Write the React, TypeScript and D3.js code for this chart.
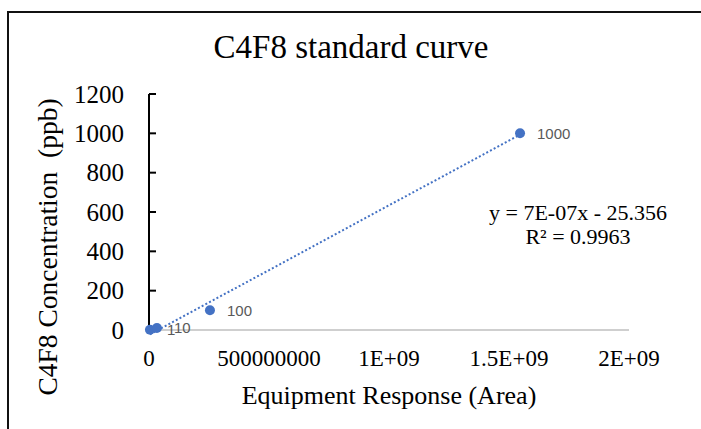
import React from "react";
import * as d3 from "d3";

const responses = [4e6, 3.3e7, 2.54e8, 1.546e9];
const concentrations = [1, 10, 100, 1000];
const pointLabels = ["1", "10", "100", "1000"];
const xTicks = [0, 5e8, 1e9, 1.5e9, 2e9];
const xTickLabels = ["0", "500000000", "1E+09", "1.5E+09", "2E+09"];
const yTicks = [0, 200, 400, 600, 800, 1000, 1200];
const equationText = "y = 7E-07x - 25.356";
const r2Text = "R² = 0.9963";

const W = 701;
const H = 429;
const serif = "Liberation Serif, Tinos, Times New Roman, DejaVu Serif, serif";
const sans = "Liberation Sans, Arial, sans-serif";
const blue = "#4472C4";

export default function App() {
  const x = d3.scaleLinear().domain([0, 2e9]).range([149, 629]);
  const y = d3.scaleLinear().domain([0, 1200]).range([330, 94]);

  const mx = d3.mean(responses) as number;
  const my = d3.mean(concentrations) as number;
  let sxy = 0, sxx = 0;
  responses.forEach((v, i) => {
    sxy += (v - mx) * (concentrations[i] - my);
    sxx += (v - mx) * (v - mx);
  });
  const slope = sxy / sxx;
  const intercept = my - slope * mx;
  const x0 = d3.min(responses) as number;
  const x1 = d3.max(responses) as number;
  const line = d3
    .line<number>()
    .x((d) => x(d))
    .y((d) => y(slope * d + intercept));

  const serifStyle = { fontFamily: serif, whiteSpace: "pre" as const };

  return (
    <svg width={W} height={H} style={{ display: "block", position: "absolute", left: 0, top: 0 }}>
      <rect x={0} y={0} width={W} height={H} fill="#fff" />
      <rect x={8} y={12} width={W + 20} height={H + 20} fill="none" stroke="#111" strokeWidth={2} />
      <text x={351} y={58} textAnchor="middle" style={serifStyle} fontSize={33} fill="#000">
        C4F8 standard curve
      </text>
      <line x1={x(0)} x2={x(2e9)} y1={y(0)} y2={y(0)} stroke="#BFBFBF" strokeWidth={1.5} />
      {xTicks.map((t, i) => (
        <text key={"xt" + i} x={x(t)} y={366} textAnchor="middle" style={serifStyle} fontSize={23} fill="#000">
          {xTickLabels[i]}
        </text>
      ))}
      <line x1={x(0)} x2={x(0)} y1={y(1200)} y2={y(0)} stroke="#000" strokeWidth={2} />
      {yTicks.map((t) => (
        <g key={"yt" + t}>
          <line x1={x(0)} x2={x(0) + 7} y1={y(t)} y2={y(t)} stroke="#000" strokeWidth={2} />
          <text x={124} y={y(t)} dy="0.34em" textAnchor="end" style={serifStyle} fontSize={25} fill="#000">
            {t}
          </text>
        </g>
      ))}
      <text
        transform={`translate(57,247) rotate(-90)`}
        textAnchor="middle"
        style={serifStyle}
        fontSize={27.5}
        fill="#000"
      >
        {"C4F8 Concentration  (ppb)"}
      </text>
      <text x={389} y={404} textAnchor="middle" style={serifStyle} fontSize={26} fill="#000">
        Equipment Response (Area)
      </text>
      <path d={line([x0, x1]) || ""} fill="none" stroke={blue} strokeWidth={2} strokeDasharray="2 2.2" />
      {responses.map((v, i) => (
        <circle key={"p" + i} cx={x(v)} cy={y(concentrations[i])} r={5} fill={blue} />
      ))}
      {responses.map((v, i) => (
        <text
          key={"l" + i}
          x={x(v) + 17}
          y={y(concentrations[i])}
          dy="0.35em"
          style={{ fontFamily: sans }}
          fontSize={15}
          fill="#595959"
        >
          {pointLabels[i]}
        </text>
      ))}
      <text x={578} y={220} textAnchor="middle" style={serifStyle} fontSize={22} fill="#000">
        {equationText}
      </text>
      <text x={578} y={244} textAnchor="middle" style={serifStyle} fontSize={22} fill="#000">
        {r2Text}
      </text>
    </svg>
  );
}
